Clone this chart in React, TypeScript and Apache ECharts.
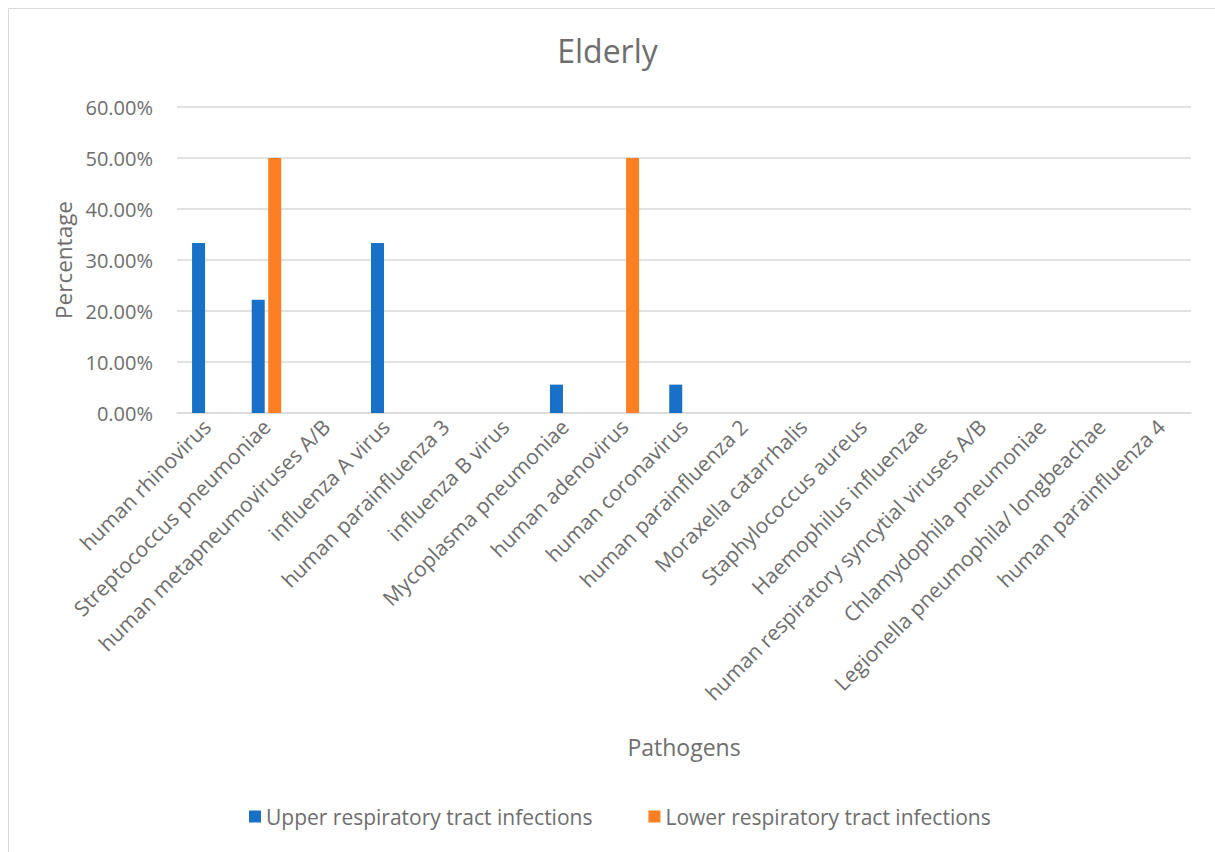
import React, { useEffect, useRef } from "react";
import * as echarts from "echarts";

const categories = [
  "human rhinovirus",
  "Streptococcus pneumoniae",
  "human metapneumoviruses A/B",
  "influenza A virus",
  "human parainfluenza 3",
  "influenza B virus",
  "Mycoplasma pneumoniae",
  "human adenovirus",
  "human coronavirus",
  "human parainfluenza 2",
  "Moraxella catarrhalis",
  "Staphylococcus aureus",
  "Haemophilus influenzae",
  "human respiratory syncytial viruses A/B",
  "Chlamydophila pneumoniae",
  "Legionella pneumophila/ longbeachae",
  "human parainfluenza 4",
];

const upperValues = [0.3333, 0.2222, 0, 0.3333, 0, 0, 0.0556, 0, 0.0556, 0, 0, 0, 0, 0, 0, 0, 0];
const lowerValues = [0, 0.5, 0, 0, 0, 0, 0, 0.5, 0, 0, 0, 0, 0, 0, 0, 0, 0];

const seriesNames = ["Upper respiratory tract infections", "Lower respiratory tract infections"];
const yTicks = { min: 0, max: 0.6, interval: 0.1 };

const FONT = "'Open Sans', sans-serif";
const TEXT = "#6e6e6e";

export default function App() {
  const ref = useRef<HTMLDivElement>(null);
  useEffect(() => {
    if (!ref.current) return;
    const chart = echarts.init(ref.current, null, { renderer: "svg" });
    chart.setOption({
      animation: false,
      backgroundColor: "#ffffff",
      textStyle: { fontFamily: FONT },
      title: {
        text: "Elderly",
        left: "center",
        top: 29,
        textStyle: { fontFamily: FONT, fontSize: 32, fontWeight: "normal", color: TEXT },
      },
      graphic: [
        {
          type: "rect",
          shape: { x: 8.5, y: 8.5, width: 1300, height: 1000 },
          style: { fill: "none", stroke: "#d9d9d9", lineWidth: 1 },
          silent: true,
        },
      ],
      legend: {
        bottom: 20,
        left: 244,
        itemWidth: 12,
        itemHeight: 12,
        itemGap: 56,
        icon: "rect",
        textStyle: { fontFamily: FONT, fontSize: 21, color: TEXT, padding: [0, 0, 0, 0] },
        data: seriesNames,
      },
      grid: { left: 177, right: 24, top: 107, bottom: 439, containLabel: false },
      xAxis: {
        type: "category",
        data: categories,
        name: "Pathogens",
        nameLocation: "middle",
        nameGap: 322,
        nameTextStyle: { fontFamily: FONT, fontSize: 23, color: TEXT },
        axisLine: { show: true, lineStyle: { color: "#d9d9d9", width: 1.5 } },
        axisTick: { show: false },
        axisLabel: { rotate: 45, interval: 0, fontFamily: FONT, fontSize: 21, color: TEXT, margin: 10 },
      },
      yAxis: {
        type: "value",
        min: yTicks.min,
        max: yTicks.max,
        interval: yTicks.interval,
        name: "Percentage",
        nameLocation: "middle",
        nameGap: 102,
        nameTextStyle: { fontFamily: FONT, fontSize: 22.5, color: TEXT },
        axisLine: { show: false },
        axisTick: { show: false },
        splitLine: { lineStyle: { color: "#d9d9d9", width: 1.5 } },
        axisLabel: {
          fontFamily: FONT,
          fontSize: 20,
          color: TEXT,
          margin: 24,
          formatter: (v: number) => (v * 100).toFixed(2) + "%",
        },
      },
      series: [
        {
          name: seriesNames[0],
          type: "bar",
          data: upperValues,
          barWidth: 13,
          barGap: "27%",
          itemStyle: { color: "#1870c7" },
        },
        {
          name: seriesNames[1],
          type: "bar",
          data: lowerValues,
          barWidth: 13,
          itemStyle: { color: "#fd7f23" },
        },
      ],
    });
    return () => chart.dispose();
  }, []);
  return (
    <div
      ref={ref}
      style={{ position: "absolute", left: 0, top: 0, width: 1215, height: 852 }}
    />
  );
}
